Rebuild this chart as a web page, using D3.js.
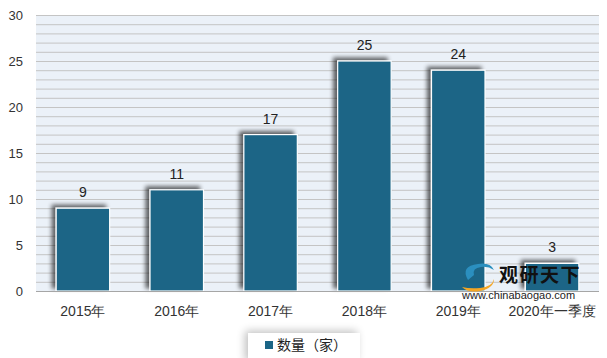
<!DOCTYPE html>
<html><head><meta charset="utf-8">
<script src="https://cdn.jsdelivr.net/npm/d3@7"></script>
<style>body{margin:0;background:#fff;}svg{display:block;font-family:"Microsoft YaHei","Noto Sans CJK SC",sans-serif;}</style>
</head><body>
<svg id="c" width="607" height="358"></svg>
<script>
const categories = ["2015年","2016年","2017年","2018年","2019年","2020年一季度"];
const values = [9, 11, 17, 25, 24, 3];
const yTicks = [0,5,10,15,20,25,30];
const seriesName = "数量（家）";

const svg = d3.select("#c");
const m = {l:36, r:8, t:15, b:67};
const W = 607, H = 358;
const x = d3.scaleBand().domain(categories).range([m.l, W - m.r]).paddingInner(0.43).paddingOuter(0.215);
const y = d3.scaleLinear().domain([0,30]).range([H - m.b, m.t]);

const defs = svg.append("defs");
const f = defs.append("filter").attr("id","sh").attr("x","-30%").attr("y","-30%").attr("width","160%").attr("height","160%");
f.append("feGaussianBlur").attr("in","SourceAlpha").attr("stdDeviation",2.2);
f.append("feOffset").attr("dx",-4).attr("dy",-3).attr("result","ob");
f.append("feComponentTransfer").append("feFuncA").attr("type","linear").attr("slope",0.6);
const mg = f.append("feMerge"); mg.append("feMergeNode"); mg.append("feMergeNode").attr("in","SourceGraphic");
const f2 = defs.append("filter").attr("id","sh2").attr("x","-30%").attr("y","-60%").attr("width","160%").attr("height","220%");
f2.append("feGaussianBlur").attr("in","SourceAlpha").attr("stdDeviation",4);
f2.append("feOffset").attr("dx",-3).attr("dy",-2);
f2.append("feComponentTransfer").append("feFuncA").attr("type","linear").attr("slope",0.25);
const mg2 = f2.append("feMerge"); mg2.append("feMergeNode"); mg2.append("feMergeNode").attr("in","SourceGraphic");

// plot background
svg.append("rect").attr("x",m.l).attr("y",m.t).attr("width",W-m.r-m.l).attr("height",y(0)-m.t).attr("fill","#EBF1F8");
// minor gridlines
svg.append("g").selectAll("line").data(d3.range(1,31)).join("line")
  .attr("x1",m.l).attr("x2",W-m.r).attr("y1",d=>y(d)+0.5).attr("y2",d=>y(d)+0.5)
  .attr("stroke","#C4C4C4").attr("stroke-width",1);

// y axis
const ya = svg.append("g").attr("transform",`translate(${m.l},0)`).call(d3.axisLeft(y).tickValues(yTicks).tickSize(0).tickPadding(13));
ya.select(".domain").remove();
ya.selectAll("text").attr("font-size",13).attr("fill","#333").attr("font-family","Arial, 'Liberation Sans', sans-serif");

// bars
svg.append("g").selectAll("rect").data(values).join("rect")
  .attr("x",(d,i)=>x(categories[i])).attr("width",x.bandwidth())
  .attr("y",d=>y(d)).attr("height",d=>y(0)-y(d))
  .attr("fill","#1B6586").attr("stroke","#fff").attr("stroke-width",1.2)
  .attr("filter","url(#sh)");

// x axis line
svg.append("line").attr("x1",m.l).attr("x2",W-m.r).attr("y1",y(0)+0.5).attr("y2",y(0)+0.5).attr("stroke","#A6A6A6");
const xa = svg.append("g").attr("transform",`translate(0,${y(0)})`).call(d3.axisBottom(x).tickSize(0).tickPadding(15));
xa.select(".domain").remove();
xa.selectAll("text").attr("font-size",14).attr("fill","#333");

// value labels
svg.append("g").selectAll("text").data(values).join("text")
  .attr("x",(d,i)=>x(categories[i])+x.bandwidth()/2).attr("y",d=>y(d)-11)
  .attr("text-anchor","middle").attr("font-size",14).attr("fill","#222")
  .attr("font-family","Arial, 'Liberation Sans', sans-serif").text(d=>d);

// watermark
const wm = svg.append("g");
wm.append("path").attr("d","M468,280 q-8,-14 10,-16 q12,-2 16,6 q-6,-4 -13,-3 q-9,1 -7,8 z").attr("fill","#2B8FBF");
wm.append("path").attr("d","M462,287 q6,6 18,4 q14,-3 14,-12 q-2,8 -14,9 q-10,1 -18,-1 z").attr("fill","#F5A623");
wm.append("text").attr("x",499).attr("y",282).attr("font-size",19).attr("font-weight","bold").attr("fill","#111")
  .attr("letter-spacing",1.5).text("观研天下");
wm.append("text").attr("x",462).attr("y",299).attr("font-size",11).attr("fill","#222")
  .attr("font-family","Arial, 'Liberation Sans', sans-serif").text("www.chinabaogao.com");

// legend
const lg = svg.append("g");
lg.append("rect").attr("x",248).attr("y",333).attr("width",112).attr("height",30).attr("fill","#fff").attr("filter","url(#sh2)");
lg.append("rect").attr("x",265).attr("y",341).attr("width",8).attr("height",8).attr("fill","#1B6586");
lg.append("text").attr("x",277).attr("y",350).attr("font-size",14).attr("fill","#222").text(seriesName);
</script>
</body></html>
